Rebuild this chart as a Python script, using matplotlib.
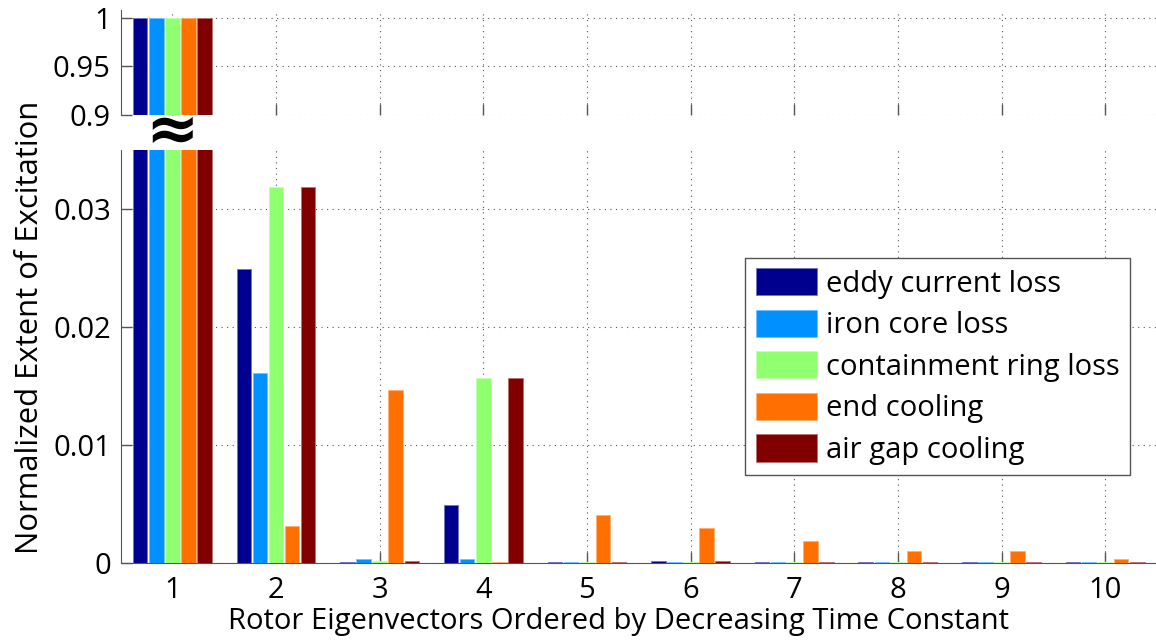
import matplotlib

matplotlib.use("Agg")
import matplotlib.pyplot as plt
import numpy as np
from matplotlib.colors import to_rgb

plt.rcParams.update({"font.family": ["Open Sans", "DejaVu Sans"], "font.size": 21})

modes = [1, 2, 3, 4, 5, 6, 7, 8, 9, 10]
series = ["eddy current loss", "iron core loss", "containment ring loss", "end cooling", "air gap cooling"]
eddy = [1.0, 0.0249, 0.0001, 0.0049, 0.0001, 0.00015, 0.0001, 0.0001, 0.0001, 0.0001]
iron = [1.0, 0.0161, 0.00036, 0.0003, 0.0001, 0.0001, 0.0001, 0.0001, 0.0001, 0.0001]
ring = [1.0, 0.0319, 0.00014, 0.0157, 0.0001, 0.0001, 0.0001, 0.0001, 0.0001, 0.0001]
end_cool = [1.0, 0.0031, 0.0147, 0.0001, 0.0041, 0.0030, 0.0019, 0.0010, 0.0010, 0.0003]
gap_cool = [1.0, 0.0319, 0.0002, 0.0157, 0.0001, 0.00015, 0.0001, 0.0001, 0.0001, 0.0001]
colors = ["#00008f", "#0090ff", "#90ff70", "#ff7000", "#800000"]

fig = plt.figure(figsize=(11.56, 6.41), dpi=100)
ax_top = fig.add_axes([120.5 / 1156, 1 - 115 / 641, (1157 - 120.5) / 1156, 105 / 641])
ax = fig.add_axes([120.5 / 1156, 1 - 563 / 641, (1157 - 120.5) / 1156, 413 / 641])

x = np.array(modes, dtype=float)
pitch = 0.155
width = 0.14
for i, (vals, name, c) in enumerate(zip([eddy, iron, ring, end_cool, gap_cool], series, colors)):
    off = (i - 2) * pitch
    edge = tuple(0.55 * v + 0.45 for v in to_rgb(c))
    for a in (ax, ax_top):
        a.bar(x + off, vals, width=width, color=c, edgecolor=edge, linewidth=0.6,
              label=name, zorder=3)

for a in (ax, ax_top):
    a.set_xlim(0.5, 10.5)
    a.set_xticks(modes)
    a.grid(True, linestyle=(0, (1, 4)), color="#555555", linewidth=0.8, zorder=0)
    a.tick_params(direction="in", length=8, color="#555555", width=1)
    for s in ("top", "right"):
        a.spines[s].set_visible(False)
    a.spines["left"].set_color("#555555")
    a.spines["bottom"].set_color("#555555")

ax.set_ylim(0, 0.035)
ax.set_yticks([0, 0.01, 0.02, 0.03])
ax.set_yticklabels(["0", "0.01", "0.02", "0.03"])
ax.set_xticklabels([str(m) for m in modes])
ax.tick_params(axis="x", pad=9)
ax.tick_params(axis="y", pad=7)

ax_top.set_ylim(0.9, 1.008)
ax_top.set_yticks([0.9, 0.95, 1.0])
ax_top.set_yticklabels(["0.9", "0.95", "1"])
ax_top.spines["bottom"].set_visible(False)
ax_top.tick_params(axis="x", labelbottom=False)
ax_top.tick_params(axis="y", pad=7)

fig.text(172 / 1156, 1 - 132 / 641, "\u2248", fontsize=46, fontweight="bold",
         ha="center", va="center", family="DejaVu Sans")

ax.set_xlabel("Rotor Eigenvectors Ordered by Decreasing Time Constant")
ax.xaxis.set_label_coords((619 - 120.5) / 1036.5, -(622 - 563) / 413, transform=ax.transAxes)
ax.xaxis.label.set_va("center")
fig.text(30 / 1156, 1 - 327 / 641, "Normalized Extent of Excitation", rotation=90,
         ha="center", va="center", fontsize=22.3)

leg = ax.legend(loc="upper right", bbox_to_anchor=(1130 / 1156, 1 - 258 / 641),
                bbox_transform=fig.transFigure, fancybox=False, framealpha=1,
                edgecolor="#555555", handlelength=2.1, handleheight=1.05,
                labelspacing=0.38, borderpad=0.35, handletextpad=0.32, borderaxespad=0)
leg.get_frame().set_linewidth(1.0)

fig.savefig("out.png", dpi=100, facecolor="white")
